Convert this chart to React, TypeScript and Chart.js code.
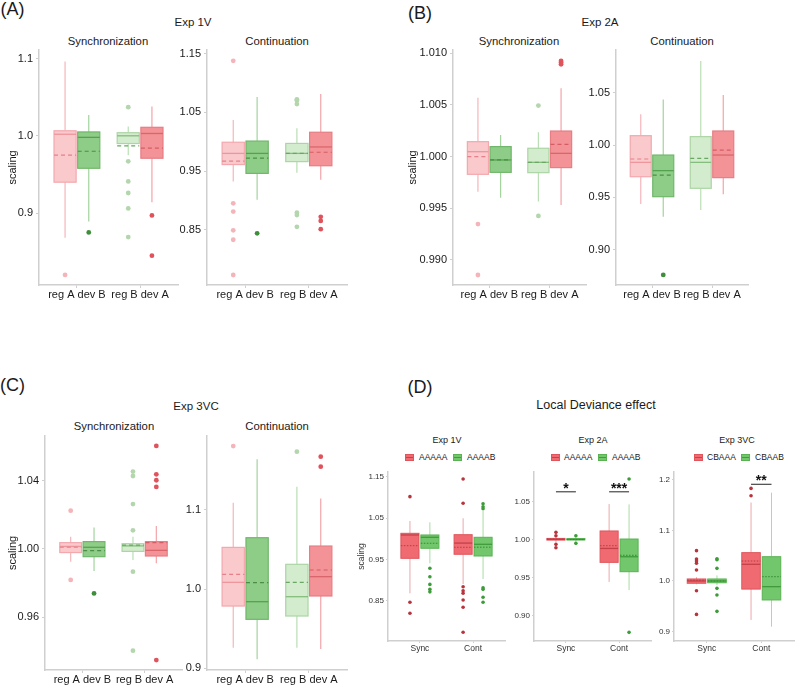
import React, { useEffect, useRef } from 'react';
import { Chart, registerables } from 'chart.js';

Chart.register(...registerables);

const FONT = '"Liberation Sans", Arial, Helvetica, sans-serif';
const AXIS = '#cfcfcf';

// x-axis group labels
const groupsRegDev = ['reg A dev B', 'reg B dev A'];
const groupsPhase = ['Sync', 'Cont'];

// Box kinds, in drawing order
const kindsRegDev = ['regA', 'devB', 'regB', 'devA'];
const kindsLocal = ['red', 'green', 'red', 'green'];

// Each row: [lower whisker, Q1, median, Q3, upper whisker, mean]
// Exp 1V
const exp1vSyncStats = [
  [0.868, 0.94, 1.002, 1.0065, 1.096, 0.975],
  [0.889, 0.958, 0.998, 1.005, 1.027, 0.98],
  [0.975, 0.99, 1.0, 1.004, 1.012, 0.987],
  [0.914, 0.971, 1.003, 1.011, 1.038, 0.984],
];
const exp1vSyncOutliers = [[0.82], [0.875], [1.037, 0.967, 0.941, 0.926, 0.906, 0.869], [0.897, 0.845]];
const exp1vSyncRange = [0.807, 1.111];
const exp1vSyncTicks = [0.9, 1.0, 1.1];
const exp1vSyncTickLabels = ['0.9', '1.0', '1.1'];

const exp1vContStats = [
  [0.932, 0.961, 0.98, 0.999, 1.037, 0.967],
  [0.901, 0.946, 0.98, 1.001, 1.076, 0.972],
  [0.947, 0.966, 0.98, 0.997, 1.023, 0.98],
  [0.935, 0.959, 0.991, 1.016, 1.081, 0.982],
];
const exp1vContOutliers = [
  [1.1375, 0.895, 0.881, 0.849, 0.833, 0.773],
  [0.844],
  [1.072, 1.07, 1.064, 0.879, 0.875, 0.855],
  [0.872, 0.865, 0.851],
];
const exp1vContRange = [0.756, 1.156];
const exp1vContTicks = [0.85, 0.95, 1.05, 1.15];
const exp1vContTickLabels = ['0.85', '0.95', '1.05', '1.15'];

// Exp 2A
const exp2aSyncStats = [
  [0.99661, 0.99829, 1.00048, 1.00145, 1.00571, 1.0],
  [0.99603, 0.99848, 0.99968, 1.00097, 1.0021, 0.99968],
  [0.99565, 0.99845, 0.99945, 1.00081, 1.00235, 0.99945],
  [0.99532, 0.99894, 1.00032, 1.00248, 1.00661, 1.00119],
];
const exp2aSyncOutliers = [[0.99348, 0.98855], [], [1.00494, 0.99426], [1.00926, 1.0091, 1.00894]];
const exp2aSyncRange = [0.98758, 1.01032];
const exp2aSyncTicks = [0.99, 0.995, 1.0, 1.005, 1.01];
const exp2aSyncTickLabels = ['0.990', '0.995', '1.000', '1.005', '1.010'];

const exp2aContStats = [
  [0.9436, 0.9697, 0.9834, 1.0089, 1.0293, 0.9866],
  [0.9315, 0.9506, 0.9755, 0.9904, 1.0436, 0.9713],
  [0.9379, 0.9586, 0.9834, 1.008, 1.0803, 0.9873],
  [0.9529, 0.9688, 0.9904, 1.0134, 1.0478, 0.9952],
];
const exp2aContOutliers = [[], [0.8758], [], []];
const exp2aContRange = [0.8662, 1.0908];
const exp2aContTicks = [0.9, 0.95, 1.0, 1.05];
const exp2aContTickLabels = ['0.90', '0.95', '1.00', '1.05'];

// Exp 3VC
const exp3vcSyncStats = [
  [0.9926, 0.9979, 1.0015, 1.0037, 1.0072, 1.001],
  [0.9871, 0.9955, 1.001, 1.0043, 1.0125, 0.999],
  [0.9936, 0.9986, 1.0018, 1.0031, 1.0072, 1.0023],
  [0.9916, 0.9959, 0.9992, 1.0043, 1.0135, 1.0037],
];
const exp3vcSyncOutliers = [
  [1.0224, 0.9819],
  [0.974],
  [1.0453, 1.0427, 1.0263, 1.0109, 0.9867, 0.9405],
  [1.0603, 1.0437, 1.0402, 1.0363, 0.935],
];
const exp3vcSyncRange = [0.9292, 1.0661];
const exp3vcSyncTicks = [0.96, 1.0, 1.04];
const exp3vcSyncTickLabels = ['0.96', '1.00', '1.04'];

const exp3vcContStats = [
  [0.9259, 0.9785, 1.0084, 1.0526, 1.1091, 1.0185],
  [0.9112, 0.9617, 0.984, 1.0648, 1.1638, 1.008],
  [0.9259, 0.9659, 0.9903, 1.0312, 1.1293, 1.0084],
  [0.9242, 0.9912, 1.0156, 1.0543, 1.1145, 1.024],
];
const exp3vcContOutliers = [[1.1806], [], [1.1735], [1.1672, 1.1545]];
const exp3vcContRange = [0.8977, 1.1933];
const exp3vcContTicks = [0.9, 1.0, 1.1];
const exp3vcContTickLabels = ['0.9', '1.0', '1.1'];

// Local deviance effect: Sync AAAAA, Sync AAAAB, Cont AAAAA, Cont AAAAB
const local1vStats = [
  [0.8684, 0.9531, 1.0096, 1.0136, 1.0435, 0.9837],
  [0.941, 0.9774, 1.004, 1.0096, 1.0403, 0.9895],
  [0.8909, 0.9629, 0.99, 1.0103, 1.05, 0.9798],
  [0.903, 0.9587, 0.987, 1.004, 1.0677, 0.98],
];
const local1vOutliers = [
  [1.1023, 0.8466, 0.82],
  [0.929, 0.9086, 0.89, 0.878, 0.872],
  [1.145, 1.0863, 0.8844, 0.8747, 0.8684, 0.8522, 0.8345, 0.774],
  [1.085, 1.078, 1.073, 0.882, 0.878, 0.8587, 0.8466],
];
const local1vRange = [0.753, 1.162];
const local1vTicks = [0.85, 0.95, 1.05, 1.15];
const local1vTickLabels = ['0.85', '0.95', '1.05', '1.15'];

const local2aStats = [
  [0.996, 0.999, 1.0, 1.0012, 1.004, 1.0003],
  [0.997, 0.9992, 0.9998, 1.001, 1.003, 0.9997],
  [0.944, 0.9697, 0.988, 1.011, 1.0464, 0.9916],
  [0.9333, 0.9574, 0.9771, 1.0004, 1.046, 0.979],
];
const local2aOutliers = [[1.0092, 1.0047, 0.9934, 0.989], [1.0047, 0.9947], [], [1.0793, 0.8776]];
const local2aRange = [0.8662, 1.0886];
const local2aTicks = [0.9, 0.95, 1.0, 1.05];
const local2aTickLabels = ['0.90', '0.95', '1.00', '1.05'];
const local2aSigText = ['*', '***'];
const local2aSigGroup = [1, 2];
const local2aSigLevel = [1.0626, 1.0626];

const local3vcStats = [
  [0.9935, 0.9955, 1.0, 1.004, 1.0075, 1.0015],
  [0.992, 0.9965, 1.0, 1.004, 1.011, 1.0],
  [0.923, 0.984, 1.033, 1.056, 1.155, 1.0395],
  [0.9097, 0.9625, 0.9888, 1.048, 1.1745, 1.0085],
];
const local3vcOutliers = [
  [1.06, 1.0435, 1.0395, 1.035, 1.0217, 0.9808, 0.934],
  [1.044, 1.042, 1.025, 0.9855, 0.9723, 0.94],
  [1.183, 1.1686],
  [],
];
const local3vcRange = [0.8814, 1.2154];
const local3vcTicks = [0.9, 1.0, 1.1, 1.2];
const local3vcTickLabels = ['0.9', '1.0', '1.1', '1.2'];
const local3vcSigText = ['**'];
const local3vcSigGroup = [2];
const local3vcSigLevel = [1.191];

type BoxStyle = { fill: string; border: string; whisker: string; median: string; mean: string; out: string };

const STYLES: Record<string, BoxStyle> = {
  regA: { fill: '#f9c9cc', border: '#f3a8ae', whisker: '#f5b6bb', median: '#ee959d', mean: '#e6808a', out: '#f4b4b9' },
  devB: { fill: '#8ecd87', border: '#70b76a', whisker: '#a3d49d', median: '#56a150', mean: '#4a8f45', out: '#3f8e3b' },
  regB: { fill: '#d3ecce', border: '#acd5a5', whisker: '#badfb4', median: '#84be7d', mean: '#6aa763', out: '#b3d6ad' },
  devA: { fill: '#f39397', border: '#e67e84', whisker: '#f3a4a9', median: '#d9666d', mean: '#d45d65', out: '#e0535c' },
  red: { fill: '#ef6b71', border: '#e0555c', whisker: '#eba7ab', median: '#c4404a', mean: '#b73c45', out: '#b8343d' },
  green: { fill: '#72c66b', border: '#59b353', whisker: '#a8dca4', median: '#3f9b3b', mean: '#338a33', out: '#3c9c39' },
};

const DODGE = 0.1875;
const boxX = (i: number) => (i < 2 ? 1 : 2) + (i % 2 === 0 ? -DODGE : DODGE);

type Sig = { text: string[]; group: number[]; level: number[] };

function boxPlugin(stats: number[][], kinds: string[], small: boolean, sig?: Sig) {
  return {
    id: 'boxes',
    beforeDatasetsDraw(chart: any) {
      const ctx: CanvasRenderingContext2D = chart.ctx;
      const xs = chart.scales.x;
      const ys = chart.scales.y;
      const unit = xs.getPixelForValue(1) - xs.getPixelForValue(0);
      const half = ((small ? 0.34 : 0.35) * unit) / 2;
      const py = (v: number) => ys.getPixelForValue(v);
      ctx.save();
      stats.forEach((row, i) => {
        const [lo, q1, med, q3, hi, mean] = row;
        const st = STYLES[kinds[i]];
        const cx = xs.getPixelForValue(boxX(i));
        ctx.setLineDash([]);
        ctx.lineWidth = small ? 1 : 1.2;
        ctx.strokeStyle = st.whisker;
        ctx.beginPath();
        ctx.moveTo(cx, py(hi));
        ctx.lineTo(cx, py(q3));
        ctx.moveTo(cx, py(q1));
        ctx.lineTo(cx, py(lo));
        ctx.stroke();
        const top = py(q3);
        const bot = py(q1);
        ctx.fillStyle = st.fill;
        ctx.fillRect(cx - half, top, half * 2, bot - top);
        ctx.strokeStyle = st.border;
        ctx.strokeRect(cx - half, top, half * 2, bot - top);
        ctx.strokeStyle = st.median;
        ctx.lineWidth = 1.3;
        ctx.beginPath();
        ctx.moveTo(cx - half, py(med));
        ctx.lineTo(cx + half, py(med));
        ctx.stroke();
        ctx.strokeStyle = st.mean;
        ctx.lineWidth = small ? 1 : 1.2;
        ctx.setLineDash(small ? [1.5, 1.5] : [4, 3]);
        ctx.beginPath();
        ctx.moveTo(cx - half, py(mean));
        ctx.lineTo(cx + half, py(mean));
        ctx.stroke();
      });
      ctx.restore();
    },
    afterDatasetsDraw(chart: any) {
      if (!sig) return;
      const ctx: CanvasRenderingContext2D = chart.ctx;
      const xs = chart.scales.x;
      const ys = chart.scales.y;
      ctx.save();
      sig.text.forEach((t, k) => {
        const g = sig.group[k];
        const y = ys.getPixelForValue(sig.level[k]);
        const x0 = xs.getPixelForValue(g - DODGE);
        const x1 = xs.getPixelForValue(g + DODGE);
        ctx.strokeStyle = '#555555';
        ctx.lineWidth = 1.3;
        ctx.beginPath();
        ctx.moveTo(x0, y);
        ctx.lineTo(x1, y);
        ctx.stroke();
        ctx.fillStyle = '#111111';
        ctx.font = `bold 14px ${FONT}`;
        ctx.textAlign = 'center';
        ctx.textBaseline = 'alphabetic';
        ctx.fillText(t, (x0 + x1) / 2, y + 1);
      });
      ctx.restore();
    },
  };
}

type BoxChartProps = {
  plot: [number, number, number, number];
  yw: number;
  yTitle?: boolean;
  range: number[];
  ticks: number[];
  tickLabels: string[];
  groups: string[];
  stats: number[][];
  outliers: number[][];
  kinds: string[];
  small?: boolean;
  sig?: Sig;
};

function BoxChart(p: BoxChartProps) {
  const ref = useRef<HTMLCanvasElement>(null);
  const small = !!p.small;
  const [L, T, R, B] = p.plot;
  const xh = small ? 16 : 22;
  const pt = 12;
  const pr = small ? 2 : 4;
  const left = L - p.yw;
  const top = T - pt;
  const width = R - L + p.yw + pr;
  const height = B - T + pt + xh;

  useEffect(() => {
    const textColor = small ? '#333333' : '#1a1a1a';
    const tickSize = small ? 8 : 11;
    const labelSize = small ? 8.5 : 11;
    const datasets = p.outliers.map((vals, i) => ({
      data: vals.map((v) => ({ x: boxX(i), y: v })),
      pointRadius: small ? 1.8 : 2.4,
      pointBackgroundColor: STYLES[p.kinds[i]].out,
      pointBorderWidth: 0,
      showLine: false,
    }));
    const chart = new Chart(ref.current as HTMLCanvasElement, {
      type: 'scatter',
      data: { datasets },
      options: {
        animation: false,
        responsive: false,
        events: [],
        layout: { padding: { left: 0, top: pt, right: pr, bottom: 0 } },
        plugins: { legend: { display: false }, tooltip: { enabled: false }, title: { display: false } },
        scales: {
          x: {
            type: 'linear',
            min: 0.4,
            max: 2.6,
            afterBuildTicks: (s: any) => {
              s.ticks = [{ value: 1 }, { value: 2 }];
            },
            afterFit: (s: any) => {
              s.height = xh;
            },
            ticks: {
              callback: (_v: any, i: number) => p.groups[i],
              font: { family: FONT, size: labelSize },
              color: textColor,
              padding: small ? 1 : 0,
              maxRotation: 0,
              autoSkip: false,
            },
            grid: { drawOnChartArea: false, drawTicks: true, tickLength: small ? 2 : 3, color: AXIS, lineWidth: 1 },
            border: { display: true, color: AXIS, width: 1.5 },
          },
          y: {
            type: 'linear',
            min: p.range[0],
            max: p.range[1],
            afterBuildTicks: (s: any) => {
              s.ticks = p.ticks.map((v) => ({ value: v }));
            },
            afterFit: (s: any) => {
              s.width = p.yw;
            },
            ticks: {
              callback: (_v: any, i: number) => p.tickLabels[i],
              font: { family: FONT, size: tickSize },
              color: textColor,
              padding: small ? 2 : 3,
            },
            grid: { drawOnChartArea: false, drawTicks: true, tickLength: small ? 2 : 3, color: AXIS, lineWidth: 1 },
            border: { display: true, color: AXIS, width: 1.5 },
            title: {
              display: !!p.yTitle,
              text: 'scaling',
              font: { family: FONT, size: small ? 8.5 : 11 },
              color: textColor,
              padding: 0,
            },
          },
        },
      },
      plugins: [boxPlugin(p.stats, p.kinds, small, p.sig)],
    } as any);
    return () => chart.destroy();
  }, []);

  return (
    <canvas
      ref={ref}
      width={width}
      height={height}
      style={{ position: 'absolute', left, top, width, height }}
    />
  );
}

function Text(props: { x: number; y: number; size: number; children: React.ReactNode; align?: 'left' | 'center' }) {
  const center = props.align !== 'left';
  return (
    <div
      style={{
        position: 'absolute',
        left: props.x,
        top: props.y,
        transform: center ? 'translate(-50%, -50%)' : 'translate(0, -50%)',
        fontSize: props.size,
        lineHeight: 1,
        whiteSpace: 'nowrap',
      }}
    >
      {props.children}
    </div>
  );
}

function LegendKey(props: { x: number; y: number; kind: string }) {
  const st = STYLES[props.kind];
  return (
    <div
      style={{
        position: 'absolute',
        left: props.x - 4.5,
        top: props.y - 3.5,
        width: 9,
        height: 7,
        boxSizing: 'border-box',
        background: st.fill,
        border: `1px solid ${st.border}`,
      }}
    >
      <div style={{ position: 'absolute', left: 0, right: 0, top: 2, height: 1, background: st.median }} />
    </div>
  );
}

export default function App() {
  return (
    <div
      style={{
        position: 'absolute',
        left: 0,
        top: 0,
        width: 798,
        height: 685,
        background: '#ffffff',
        fontFamily: FONT,
        color: '#1a1a1a',
        overflow: 'hidden',
      }}
    >
      <Text x={12.5} y={9} size={18}>(A)</Text>
      <Text x={420} y={13} size={18}>(B)</Text>
      <Text x={12.5} y={385} size={18}>(C)</Text>
      <Text x={420} y={387} size={18}>(D)</Text>

      <Text x={193} y={23} size={11.5}>Exp 1V</Text>
      <Text x={600} y={23} size={11.5}>Exp 2A</Text>
      <Text x={196} y={407} size={11.5}>Exp 3VC</Text>
      <Text x={596} y={405} size={12.5}>Local Deviance effect</Text>

      <Text x={108} y={42} size={11.3}>Synchronization</Text>
      <Text x={277} y={42} size={11.3}>Continuation</Text>
      <Text x={519} y={42} size={11.3}>Synchronization</Text>
      <Text x={682} y={42} size={11.3}>Continuation</Text>
      <Text x={114} y={427} size={11.3}>Synchronization</Text>
      <Text x={277} y={427} size={11.3}>Continuation</Text>

      <Text x={447} y={440} size={9}>Exp 1V</Text>
      <Text x={593} y={440} size={9}>Exp 2A</Text>
      <Text x={737} y={440} size={9}>Exp 3VC</Text>

      <LegendKey x={409} y={457} kind="red" />
      <Text x={419} y={457} size={8.5} align="left">AAAAA</Text>
      <LegendKey x={457.5} y={457} kind="green" />
      <Text x={467} y={457} size={8.5} align="left">AAAAB</Text>

      <LegendKey x={555.5} y={457} kind="red" />
      <Text x={564} y={457} size={8.5} align="left">AAAAA</Text>
      <LegendKey x={602.5} y={457} kind="green" />
      <Text x={612} y={457} size={8.5} align="left">AAAAB</Text>

      <LegendKey x={698} y={457} kind="red" />
      <Text x={707} y={457} size={8.5} align="left">CBAAA</Text>
      <LegendKey x={745.5} y={457} kind="green" />
      <Text x={755} y={457} size={8.5} align="left">CBAAB</Text>

      <BoxChart plot={[39, 50, 178, 285]} yw={33} yTitle range={exp1vSyncRange} ticks={exp1vSyncTicks}
        tickLabels={exp1vSyncTickLabels} groups={groupsRegDev} stats={exp1vSyncStats}
        outliers={exp1vSyncOutliers} kinds={kindsRegDev} />
      <BoxChart plot={[207, 50, 347, 285]} yw={32} range={exp1vContRange} ticks={exp1vContTicks}
        tickLabels={exp1vContTickLabels} groups={groupsRegDev} stats={exp1vContStats}
        outliers={exp1vContOutliers} kinds={kindsRegDev} />
      <BoxChart plot={[453, 50, 586, 285]} yw={47} yTitle range={exp2aSyncRange} ticks={exp2aSyncTicks}
        tickLabels={exp2aSyncTickLabels} groups={groupsRegDev} stats={exp2aSyncStats}
        outliers={exp2aSyncOutliers} kinds={kindsRegDev} />
      <BoxChart plot={[616, 50, 748, 285]} yw={32} range={exp2aContRange} ticks={exp2aContTicks}
        tickLabels={exp2aContTickLabels} groups={groupsRegDev} stats={exp2aContStats}
        outliers={exp2aContOutliers} kinds={kindsRegDev} />
      <BoxChart plot={[45, 436, 182, 670]} yw={39} yTitle range={exp3vcSyncRange} ticks={exp3vcSyncTicks}
        tickLabels={exp3vcSyncTickLabels} groups={groupsRegDev} stats={exp3vcSyncStats}
        outliers={exp3vcSyncOutliers} kinds={kindsRegDev} />
      <BoxChart plot={[207, 436, 347, 670]} yw={30} range={exp3vcContRange} ticks={exp3vcContTicks}
        tickLabels={exp3vcContTickLabels} groups={groupsRegDev} stats={exp3vcContStats}
        outliers={exp3vcContOutliers} kinds={kindsRegDev} />

      <BoxChart plot={[388, 472, 507, 641]} yw={31} yTitle small range={local1vRange} ticks={local1vTicks}
        tickLabels={local1vTickLabels} groups={groupsPhase} stats={local1vStats}
        outliers={local1vOutliers} kinds={kindsLocal} />
      <BoxChart plot={[534, 472, 653, 641]} yw={26} small range={local2aRange} ticks={local2aTicks}
        tickLabels={local2aTickLabels} groups={groupsPhase} stats={local2aStats}
        outliers={local2aOutliers} kinds={kindsLocal}
        sig={{ text: local2aSigText, group: local2aSigGroup, level: local2aSigLevel }} />
      <BoxChart plot={[674, 472, 796, 641]} yw={22} small range={local3vcRange} ticks={local3vcTicks}
        tickLabels={local3vcTickLabels} groups={groupsPhase} stats={local3vcStats}
        outliers={local3vcOutliers} kinds={kindsLocal}
        sig={{ text: local3vcSigText, group: local3vcSigGroup, level: local3vcSigLevel }} />
    </div>
  );
}
